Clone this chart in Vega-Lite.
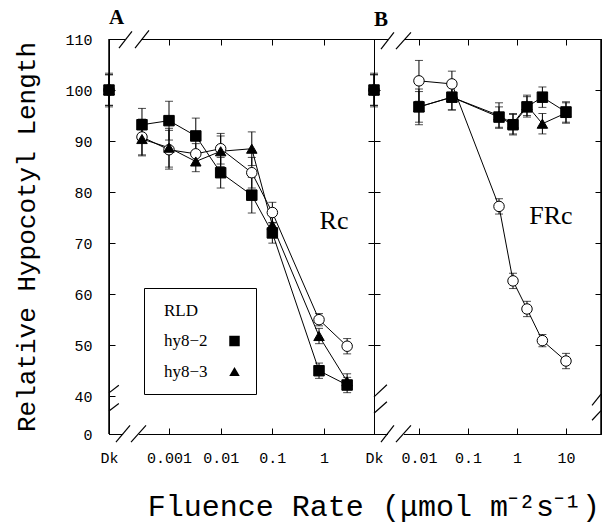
{
"$schema": "https://vega.github.io/schema/vega-lite/v6.json",
"background": "white",
"padding": {"left": 13, "top": 6, "right": 0, "bottom": 5},
"config": {
  "view": {"stroke": "black", "strokeWidth": 1},
  "axis": {"grid": false, "domain": true, "domainColor": "black", "domainWidth": 1, "tickColor": "black", "tickSize": -6, "tickWidth": 1, "labelFont": "Liberation Mono", "labelFontSize": 15, "labelColor": "black", "labelPadding": 23, "titleFont": "Liberation Mono", "titleFontSize": 26, "titleFontWeight": "normal", "titleColor": "black"},
  "axisX": {"labelPadding": 22, "labelFlush": false},
  "title": {"font": "Liberation Serif", "fontSize": 21, "fontWeight": "bold", "anchor": "start", "color": "black"}
},
"datasets": {"pts": [
  {"panel":"A","geno":"RLD","dk":true,"fluence":null,"len":100,"err":3},
  {"panel":"A","geno":"hy8-2","dk":true,"fluence":null,"len":100,"err":3},
  {"panel":"A","geno":"hy8-3","dk":true,"fluence":null,"len":100,"err":3.3},
  {"panel":"A","geno":"RLD","dk":false,"fluence":0.0003,"len":90.8,"err":3.5},
  {"panel":"A","geno":"RLD","dk":false,"fluence":0.001,"len":88.3,"err":3.8},
  {"panel":"A","geno":"RLD","dk":false,"fluence":0.0033,"len":87.5,"err":2},
  {"panel":"A","geno":"RLD","dk":false,"fluence":0.01,"len":88.5,"err":3},
  {"panel":"A","geno":"RLD","dk":false,"fluence":0.04,"len":83.8,"err":3},
  {"panel":"A","geno":"RLD","dk":false,"fluence":0.1,"len":76,"err":2},
  {"panel":"A","geno":"RLD","dk":false,"fluence":0.8,"len":55,"err":1.2},
  {"panel":"A","geno":"RLD","dk":false,"fluence":2.8,"len":49.8,"err":1.5},
  {"panel":"A","geno":"hy8-2","dk":false,"fluence":0.0003,"len":93.2,"err":3.2},
  {"panel":"A","geno":"hy8-2","dk":false,"fluence":0.001,"len":94,"err":3.8},
  {"panel":"A","geno":"hy8-2","dk":false,"fluence":0.0033,"len":91,"err":3.5},
  {"panel":"A","geno":"hy8-2","dk":false,"fluence":0.01,"len":83.8,"err":3},
  {"panel":"A","geno":"hy8-2","dk":false,"fluence":0.04,"len":79.4,"err":3.5},
  {"panel":"A","geno":"hy8-2","dk":false,"fluence":0.1,"len":72,"err":2},
  {"panel":"A","geno":"hy8-2","dk":false,"fluence":0.8,"len":45,"err":1.5},
  {"panel":"A","geno":"hy8-2","dk":false,"fluence":2.8,"len":42.2,"err":1.5},
  {"panel":"A","geno":"hy8-3","dk":false,"fluence":0.0003,"len":90.4,"err":3.3},
  {"panel":"A","geno":"hy8-3","dk":false,"fluence":0.001,"len":88.7,"err":3.8},
  {"panel":"A","geno":"hy8-3","dk":false,"fluence":0.0033,"len":86,"err":2},
  {"panel":"A","geno":"hy8-3","dk":false,"fluence":0.01,"len":88,"err":3},
  {"panel":"A","geno":"hy8-3","dk":false,"fluence":0.04,"len":88.5,"err":3.3},
  {"panel":"A","geno":"hy8-3","dk":false,"fluence":0.1,"len":73.5,"err":2},
  {"panel":"A","geno":"hy8-3","dk":false,"fluence":0.8,"len":51.8,"err":1.5},
  {"panel":"A","geno":"hy8-3","dk":false,"fluence":2.8,"len":42.9,"err":1.5},
  {"panel":"B","geno":"RLD","dk":true,"fluence":null,"len":100,"err":3},
  {"panel":"B","geno":"hy8-2","dk":true,"fluence":null,"len":100,"err":3},
  {"panel":"B","geno":"hy8-3","dk":true,"fluence":null,"len":100,"err":3.3},
  {"panel":"B","geno":"RLD","dk":false,"fluence":0.01,"len":101.8,"err":4},
  {"panel":"B","geno":"RLD","dk":false,"fluence":0.047,"len":101.2,"err":2.5},
  {"panel":"B","geno":"RLD","dk":false,"fluence":0.43,"len":77.2,"err":1.5},
  {"panel":"B","geno":"RLD","dk":false,"fluence":0.83,"len":62.6,"err":1.5},
  {"panel":"B","geno":"RLD","dk":false,"fluence":1.6,"len":57.1,"err":1.5},
  {"panel":"B","geno":"RLD","dk":false,"fluence":3.3,"len":50.9,"err":1.2},
  {"panel":"B","geno":"RLD","dk":false,"fluence":10,"len":46.9,"err":1.5},
  {"panel":"B","geno":"hy8-2","dk":false,"fluence":0.01,"len":96.7,"err":3.5},
  {"panel":"B","geno":"hy8-2","dk":false,"fluence":0.047,"len":98.6,"err":2.5},
  {"panel":"B","geno":"hy8-2","dk":false,"fluence":0.43,"len":94.7,"err":2},
  {"panel":"B","geno":"hy8-2","dk":false,"fluence":0.83,"len":93.2,"err":2},
  {"panel":"B","geno":"hy8-2","dk":false,"fluence":1.6,"len":96.7,"err":2},
  {"panel":"B","geno":"hy8-2","dk":false,"fluence":3.3,"len":98.6,"err":2},
  {"panel":"B","geno":"hy8-2","dk":false,"fluence":10,"len":95.7,"err":2},
  {"panel":"B","geno":"hy8-3","dk":false,"fluence":0.01,"len":96.7,"err":3},
  {"panel":"B","geno":"hy8-3","dk":false,"fluence":0.047,"len":98.6,"err":2.5},
  {"panel":"B","geno":"hy8-3","dk":false,"fluence":0.43,"len":95,"err":2.5},
  {"panel":"B","geno":"hy8-3","dk":false,"fluence":0.83,"len":93.4,"err":2},
  {"panel":"B","geno":"hy8-3","dk":false,"fluence":1.6,"len":97,"err":2},
  {"panel":"B","geno":"hy8-3","dk":false,"fluence":3.3,"len":93.4,"err":2},
  {"panel":"B","geno":"hy8-3","dk":false,"fluence":10,"len":95.5,"err":2}
]},
"title": {"text": "Fluence Rate (μmol m⁻²s⁻¹)", "orient": "bottom", "anchor": "middle", "font": "Liberation Mono", "fontSize": 30, "fontWeight": "normal", "offset": 26, "dx": 66},
"spacing": 0,
"bounds": "flush",
"resolve": {"scale": {"x": "independent", "y": "independent", "shape": "independent", "fill": "independent"}, "legend": {"shape": "independent", "fill": "independent"}},
"hconcat": [
 {
  "width": 265, "height": 395,
  "title": {"text": "A", "offset": 2, "frame": "group"},
  "resolve": {"axis": {"x": "independent", "y": "independent"}},
  "layer": [
   {"data": {"name": "pts"}, "transform": [{"filter": "datum.panel === 'A' && !datum.dk"}],
    "mark": {"type": "line", "color": "black", "strokeWidth": 1},
    "encoding": {
      "x": {"field": "fluence", "type": "quantitative", "scale": {"type": "log", "domain": [0.000069, 9.27], "nice": false}, "axis": {"values": [0.000069, 0.001, 0.01, 0.1, 1], "labelExpr": "datum.value < 0.0005 ? 'Dk' : format(datum.value, '~g')", "title": null}},
      "y": {"field": "len", "type": "quantitative", "scale": {"domain": [32.6, 110], "zero": false, "nice": false}, "axis": {"values": [32.6, 40, 50, 60, 70, 80, 90, 100, 110], "labelExpr": "datum.value < 35 ? '0' : datum.label", "title": "Relative Hypocotyl Length", "titlePadding": 25}},
      "detail": {"field": "geno"}
    }},
   {"data": {"name": "pts"}, "transform": [{"filter": "datum.panel === 'A' && !datum.dk"}],
    "mark": {"type": "errorbar", "ticks": {"size": 8}, "color": "black"},
    "encoding": {
      "x": {"field": "fluence", "type": "quantitative", "axis": null},
      "y": {"field": "len", "type": "quantitative", "axis": null},
      "yError": {"field": "err"}
    }},
   {"data": {"values": [{}]}, "mark": {"type": "rule", "color": "white", "strokeWidth": 3},
    "encoding": {"x": {"datum": 0.000129, "axis": null}, "x2": {"datum": 0.000262}, "y": {"datum": 32.6, "axis": null}}},
   {"data": {"values": [{}]}, "mark": {"type": "rule", "color": "white", "strokeWidth": 3},
    "encoding": {"x": {"datum": 0.000141, "axis": null}, "x2": {"datum": 0.000287}, "y": {"datum": 110, "axis": null}}},
   {"data": {"name": "pts"}, "transform": [{"filter": "datum.panel === 'A' && datum.dk"}],
    "mark": {"type": "errorbar", "ticks": {"size": 8}, "color": "black"},
    "encoding": {
      "x": {"datum": 0.000069, "axis": null},
      "y": {"field": "len", "type": "quantitative", "axis": null},
      "yError": {"field": "err"}
    }},
   {"data": {"name": "pts"}, "transform": [{"filter": "datum.panel === 'A' && datum.dk && datum.geno === 'RLD'"}],
    "mark": {"type": "point", "shape": "circle", "fill": "white", "stroke": "black", "strokeWidth": 1, "size": 110, "opacity": 1},
    "encoding": {"x": {"datum": 0.000069, "axis": null}, "y": {"field": "len", "type": "quantitative", "axis": null}}},
   {"data": {"name": "pts"}, "transform": [{"filter": "datum.panel === 'A' && datum.dk && datum.geno === 'hy8-2'"}],
    "mark": {"type": "point", "shape": "square", "fill": "black", "stroke": "black", "strokeWidth": 1, "size": 110, "opacity": 1},
    "encoding": {"x": {"datum": 0.000069, "axis": null}, "y": {"field": "len", "type": "quantitative", "axis": null}}},
   {"data": {"name": "pts"}, "transform": [{"filter": "datum.panel === 'A' && datum.dk && datum.geno === 'hy8-3'"}],
    "mark": {"type": "point", "shape": "triangle-up", "fill": "black", "stroke": "black", "strokeWidth": 1, "size": 110, "opacity": 1},
    "encoding": {"x": {"datum": 0.000069, "axis": null}, "y": {"field": "len", "type": "quantitative", "axis": null}}},
   {"data": {"name": "pts"}, "transform": [{"filter": "datum.panel === 'A' && !datum.dk"}],
    "mark": {"type": "point", "filled": true, "stroke": "black", "strokeWidth": 1, "size": 110, "opacity": 1},
    "encoding": {
      "x": {"field": "fluence", "type": "quantitative", "axis": {"orient": "top", "values": [0.001, 0.01, 0.1, 1], "labels": false, "title": null}},
      "y": {"field": "len", "type": "quantitative", "axis": {"orient": "right", "values": [50, 60, 70, 80, 90, 100], "labels": false, "title": null}},
      "shape": {"field": "geno", "type": "nominal", "scale": {"domain": ["RLD", "hy8-2", "hy8-3"], "range": ["circle", "square", "triangle-up"]}, "legend": {"title": null, "orient": "none", "legendX": 35, "legendY": 249, "strokeColor": "black", "fillColor": "white", "padding": 14, "labelFont": "Liberation Serif", "labelFontSize": 17, "labelColor": "black", "rowPadding": 12.5, "symbolSize": 110, "symbolStrokeColor": "black", "symbolStrokeWidth": 1, "symbolOffset": 68, "labelOffset": -79, "labelAlign": "left", "labelExpr": "replace(datum.label, '-', '\u2212')"}},
      "fill": {"field": "geno", "type": "nominal", "scale": {"domain": ["RLD", "hy8-2", "hy8-3"], "range": ["white", "black", "black"]}, "legend": {"title": null, "orient": "none", "legendX": 35, "legendY": 249, "strokeColor": "black", "fillColor": "white", "padding": 14, "labelFont": "Liberation Serif", "labelFontSize": 17, "labelColor": "black", "rowPadding": 12.5, "symbolSize": 110, "symbolStrokeColor": "black", "symbolStrokeWidth": 1, "symbolOffset": 68, "labelOffset": -79, "labelAlign": "left", "labelExpr": "replace(datum.label, '-', '\u2212')"}}
    }},
   {"data": {"values": [{}]}, "mark": {"type": "text", "text": "Rc", "font": "Liberation Serif", "fontSize": 26, "color": "black"},
    "encoding": {"x": {"datum": 1.56, "axis": null}, "y": {"datum": 74.3, "axis": null}}},
   {"data": {"values": [{}]}, "mark": {"type": "rule", "color": "black", "strokeWidth": 1.2},
    "encoding": {"x": {"datum": 0.0001076, "axis": null}, "x2": {"datum": 0.000192}, "y": {"datum": 108.2, "axis": null}, "y2": {"datum": 111.5}}},
   {"data": {"values": [{}]}, "mark": {"type": "rule", "color": "black", "strokeWidth": 1.2},
    "encoding": {"x": {"datum": 0.00022, "axis": null}, "x2": {"datum": 0.00041}, "y": {"datum": 108.2, "axis": null}, "y2": {"datum": 111.7}}},
   {"data": {"values": [{}]}, "mark": {"type": "rule", "color": "black", "strokeWidth": 1.2},
    "encoding": {"x": {"datum": 0.000094, "axis": null}, "x2": {"datum": 0.000176}, "y": {"datum": 31.0, "axis": null}, "y2": {"datum": 34.3}}},
   {"data": {"values": [{}]}, "mark": {"type": "rule", "color": "black", "strokeWidth": 1.2},
    "encoding": {"x": {"datum": 0.000184, "axis": null}, "x2": {"datum": 0.000359}, "y": {"datum": 31.0, "axis": null}, "y2": {"datum": 34.3}}},
   {"data": {"values": [{}]}, "mark": {"type": "rule", "color": "black", "strokeWidth": 1.2},
    "encoding": {"x": {"datum": 0.000069, "axis": null}, "x2": {"datum": 0.000107}, "y": {"datum": 40.66, "axis": null}, "y2": {"datum": 42.14}}},
   {"data": {"values": [{}]}, "mark": {"type": "rule", "color": "black", "strokeWidth": 1.2},
    "encoding": {"x": {"datum": 0.000069, "axis": null}, "x2": {"datum": 0.000107}, "y": {"datum": 37.1, "axis": null}, "y2": {"datum": 38.57}}},
   {"data": {"values": [{}]}, "mark": {"type": "rule", "color": "black", "strokeWidth": 1.5},
    "encoding": {"x": {"datum": 0.000069, "axis": null}}}
  ]
 },
 {
  "width": 227, "height": 395,
  "title": {"text": "B", "offset": 2, "frame": "group"},
  "resolve": {"axis": {"x": "independent", "y": "independent"}},
  "layer": [
   {"data": {"name": "pts"}, "transform": [{"filter": "datum.panel === 'B' && !datum.dk"}],
    "mark": {"type": "line", "color": "black", "strokeWidth": 1},
    "encoding": {
      "x": {"field": "fluence", "type": "quantitative", "scale": {"type": "log", "domain": [0.00121, 51.8], "nice": false}, "axis": {"values": [0.00121, 0.01, 0.1, 1, 10], "labelExpr": "datum.value < 0.005 ? 'Dk' : format(datum.value, '~g')", "title": null}},
      "y": {"field": "len", "type": "quantitative", "scale": {"domain": [32.6, 110], "zero": false, "nice": false}, "axis": {"values": [50, 60, 70, 80, 90, 100], "labels": false, "title": null}},
      "detail": {"field": "geno"}
    }},
   {"data": {"name": "pts"}, "transform": [{"filter": "datum.panel === 'B' && !datum.dk"}],
    "mark": {"type": "errorbar", "ticks": {"size": 8}, "color": "black"},
    "encoding": {
      "x": {"field": "fluence", "type": "quantitative", "axis": null},
      "y": {"field": "len", "type": "quantitative", "axis": null},
      "yError": {"field": "err"}
    }},
   {"data": {"values": [{}]}, "mark": {"type": "rule", "color": "white", "strokeWidth": 3},
    "encoding": {"x": {"datum": 0.00233, "axis": null}, "x2": {"datum": 0.00495}, "y": {"datum": 32.6, "axis": null}}},
   {"data": {"values": [{}]}, "mark": {"type": "rule", "color": "white", "strokeWidth": 3},
    "encoding": {"x": {"datum": 0.00233, "axis": null}, "x2": {"datum": 0.00495}, "y": {"datum": 110, "axis": null}}},
   {"data": {"name": "pts"}, "transform": [{"filter": "datum.panel === 'B' && datum.dk"}],
    "mark": {"type": "errorbar", "ticks": {"size": 8}, "color": "black"},
    "encoding": {
      "x": {"datum": 0.00121, "axis": null},
      "y": {"field": "len", "type": "quantitative", "axis": null},
      "yError": {"field": "err"}
    }},
   {"data": {"name": "pts"}, "transform": [{"filter": "datum.panel === 'B' && datum.dk && datum.geno === 'RLD'"}],
    "mark": {"type": "point", "shape": "circle", "fill": "white", "stroke": "black", "strokeWidth": 1, "size": 110, "opacity": 1},
    "encoding": {"x": {"datum": 0.00121, "axis": null}, "y": {"field": "len", "type": "quantitative", "axis": null}}},
   {"data": {"name": "pts"}, "transform": [{"filter": "datum.panel === 'B' && datum.dk && datum.geno === 'hy8-2'"}],
    "mark": {"type": "point", "shape": "square", "fill": "black", "stroke": "black", "strokeWidth": 1, "size": 110, "opacity": 1},
    "encoding": {"x": {"datum": 0.00121, "axis": null}, "y": {"field": "len", "type": "quantitative", "axis": null}}},
   {"data": {"name": "pts"}, "transform": [{"filter": "datum.panel === 'B' && datum.dk && datum.geno === 'hy8-3'"}],
    "mark": {"type": "point", "shape": "triangle-up", "fill": "black", "stroke": "black", "strokeWidth": 1, "size": 110, "opacity": 1},
    "encoding": {"x": {"datum": 0.00121, "axis": null}, "y": {"field": "len", "type": "quantitative", "axis": null}}},
   {"data": {"name": "pts"}, "transform": [{"filter": "datum.panel === 'B' && !datum.dk"}],
    "mark": {"type": "point", "filled": true, "stroke": "black", "strokeWidth": 1, "size": 110, "opacity": 1},
    "encoding": {
      "x": {"field": "fluence", "type": "quantitative", "axis": {"orient": "top", "values": [0.01, 0.1, 1, 10], "labels": false, "title": null}},
      "y": {"field": "len", "type": "quantitative", "axis": {"orient": "right", "values": [50, 60, 70, 80, 90, 100], "labels": false, "title": null}},
      "shape": {"field": "geno", "type": "nominal", "scale": {"domain": ["RLD", "hy8-2", "hy8-3"], "range": ["circle", "square", "triangle-up"]}, "legend": null},
      "fill": {"field": "geno", "type": "nominal", "scale": {"domain": ["RLD", "hy8-2", "hy8-3"], "range": ["white", "black", "black"]}, "legend": null}
    }},
   {"data": {"values": [{}]}, "mark": {"type": "text", "text": "FRc", "font": "Liberation Serif", "fontSize": 26, "color": "black"},
    "encoding": {"x": {"datum": 4.94, "axis": null}, "y": {"datum": 75.4, "axis": null}}},
   {"data": {"values": [{}]}, "mark": {"type": "rule", "color": "black", "strokeWidth": 1.2},
    "encoding": {"x": {"datum": 0.00168, "axis": null}, "x2": {"datum": 0.00309}, "y": {"datum": 108.0, "axis": null}, "y2": {"datum": 111.3}}},
   {"data": {"values": [{}]}, "mark": {"type": "rule", "color": "black", "strokeWidth": 1.2},
    "encoding": {"x": {"datum": 0.0034, "axis": null}, "x2": {"datum": 0.00687}, "y": {"datum": 108.0, "axis": null}, "y2": {"datum": 111.3}}},
   {"data": {"values": [{}]}, "mark": {"type": "rule", "color": "black", "strokeWidth": 1.2},
    "encoding": {"x": {"datum": 0.00168, "axis": null}, "x2": {"datum": 0.00309}, "y": {"datum": 31.0, "axis": null}, "y2": {"datum": 34.3}}},
   {"data": {"values": [{}]}, "mark": {"type": "rule", "color": "black", "strokeWidth": 1.2},
    "encoding": {"x": {"datum": 0.0034, "axis": null}, "x2": {"datum": 0.00687}, "y": {"datum": 31.0, "axis": null}, "y2": {"datum": 34.3}}},
   {"data": {"values": [{}]}, "mark": {"type": "rule", "color": "black", "strokeWidth": 1.2},
    "encoding": {"x": {"datum": 0.00121, "axis": null}, "x2": {"datum": 0.00222}, "y": {"datum": 39.88, "axis": null}, "y2": {"datum": 42.26}}},
   {"data": {"values": [{}]}, "mark": {"type": "rule", "color": "black", "strokeWidth": 1.2},
    "encoding": {"x": {"datum": 0.00121, "axis": null}, "x2": {"datum": 0.00222}, "y": {"datum": 36.67, "axis": null}, "y2": {"datum": 38.93}}},
   {"data": {"values": [{}]}, "mark": {"type": "rule", "color": "black", "strokeWidth": 1.2},
    "encoding": {"x": {"datum": 34, "axis": null}, "x2": {"datum": 51.8}, "y": {"datum": 38.2, "axis": null}, "y2": {"datum": 40.39}}},
   {"data": {"values": [{}]}, "mark": {"type": "rule", "color": "black", "strokeWidth": 1.2},
    "encoding": {"x": {"datum": 34, "axis": null}, "x2": {"datum": 51.8}, "y": {"datum": 35.3, "axis": null}, "y2": {"datum": 37.17}}},
   {"data": {"values": [{}]}, "mark": {"type": "rule", "color": "black", "strokeWidth": 1.5},
    "encoding": {"x": {"datum": 51.8, "axis": null}}}
  ]
 }
]
}
